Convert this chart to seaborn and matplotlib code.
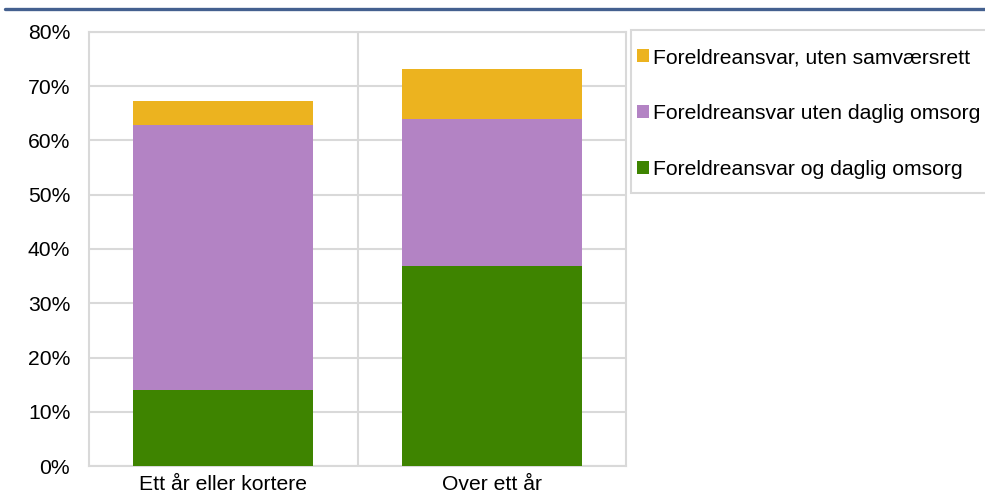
import numpy as np
import pandas as pd
import matplotlib
matplotlib.use("Agg")
import matplotlib.pyplot as plt
import seaborn as sns
from matplotlib.lines import Line2D
from matplotlib.patches import Patch, Rectangle
from matplotlib.ticker import FixedLocator, PercentFormatter

categories = ["Ett år eller kortere", "Over ett år"]
series_names = ["Foreldreansvar og daglig omsorg",
                "Foreldreansvar uten daglig omsorg",
                "Foreldreansvar, uten samværsrett"]
daglig_omsorg = [14.0, 36.9]
uten_daglig_omsorg = [48.9, 27.1]
uten_samvaersrett = [4.4, 9.2]
colors = ["#3E8400", "#B383C4", "#ECB31F"]

sns.set_theme(style="white")
plt.rcParams["font.family"] = ["Liberation Sans", "DejaVu Sans"]
plt.rcParams["text.color"] = "black"

FS = 15.2
fig = plt.figure(figsize=(9.85, 4.93), dpi=100)
ax = fig.add_axes([89/985, 27/493, 537/985, 434/493])

series = [daglig_omsorg, uten_daglig_omsorg, uten_samvaersrett]
cum = np.cumsum(np.array(series), axis=0)
# draw tallest cumulative first so lower segments overlay
for i in range(len(series) - 1, -1, -1):
    df = pd.DataFrame({"cat": categories, "val": cum[i]})
    sns.barplot(data=df, x="cat", y="val", color=colors[i], width=0.67,
                saturation=1, ax=ax, zorder=3, linewidth=0)

ax.set_xlim(-0.5, 1.5)
ax.set_ylim(0, 80)
ax.set_yticks(np.arange(0, 81, 10))
ax.yaxis.set_major_formatter(PercentFormatter(decimals=0))
ax.xaxis.set_minor_locator(FixedLocator([0.5]))
ax.set_xlabel("")
ax.set_ylabel("")
gc = "#D9D9D9"
ax.grid(axis="y", which="major", color=gc, linewidth=1.5, zorder=0)
ax.grid(axis="x", which="minor", color=gc, linewidth=1.5, zorder=0)
ax.grid(axis="x", which="major", visible=False)
for s in ax.spines.values():
    s.set_color(gc)
    s.set_linewidth(1.5)
ax.tick_params(axis="both", which="both", length=0, labelsize=FS, colors="black")
ax.tick_params(axis="y", pad=13.5)
ax.tick_params(axis="x", pad=6.5)

# legend frame
fig.add_artist(Rectangle((631/985, 1 - 193/493), 365/985, 163/493,
                         transform=fig.transFigure, facecolor="white",
                         edgecolor=gc, linewidth=1.5, zorder=1))
handles = [Patch(facecolor=colors[i], edgecolor="none") for i in [2, 1, 0]]
labels = [series_names[i] for i in [2, 1, 0]]
leg = fig.legend(handles, labels, loc="upper left",
                 bbox_to_anchor=(637/985, 1 - 48/493),
                 fontsize=FS, frameon=False, labelcolor="black",
                 handlelength=0.55, handleheight=0.55, handletextpad=0.22,
                 labelspacing=1.76, borderpad=0, borderaxespad=0)
leg.set_zorder(2)

fig.add_artist(Line2D([5/985, 1.0], [1 - 9/493, 1 - 9/493],
                      transform=fig.transFigure, color="#44608F", linewidth=2.4))

fig.savefig("out.png", dpi=100)
